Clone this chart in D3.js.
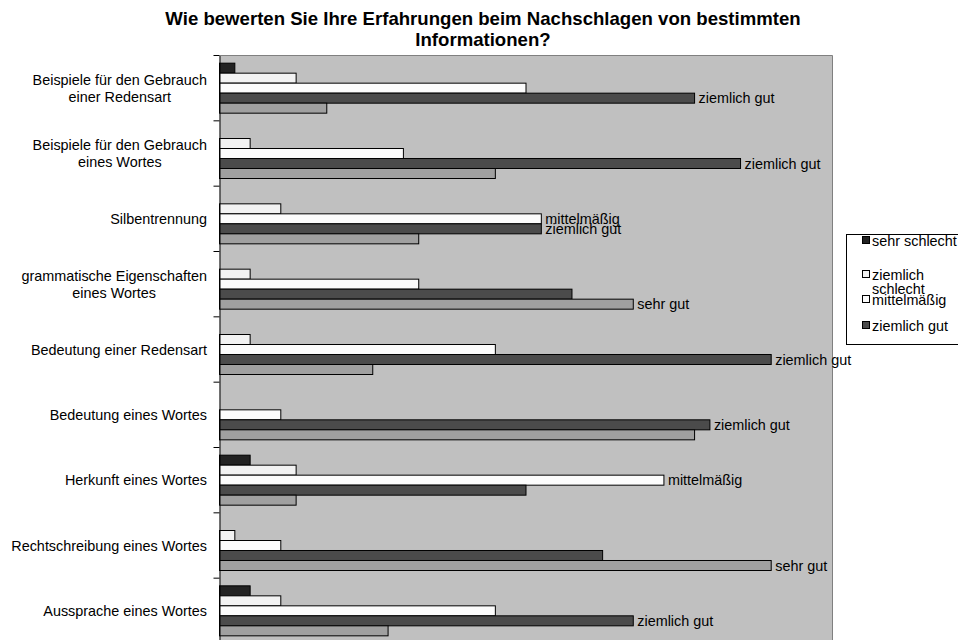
<!DOCTYPE html>
<html>
<head>
<meta charset="utf-8">
<script src="https://cdn.jsdelivr.net/npm/d3@7"></script>
<style>
  html, body { margin: 0; padding: 0; background: #ffffff; }
  svg { display: block; font-family: "Liberation Sans", Arial, sans-serif; }
</style>
</head>
<body>
<svg id="chart" width="958" height="640"></svg>
<script>
// Survey answers per lookup type (number of respondents per rating)
const titleLines = [
  "Wie bewerten Sie Ihre Erfahrungen beim Nachschlagen von bestimmten",
  "Informationen?"
];
const categories = [
  ["Beispiele für den Gebrauch", "einer Redensart"],
  ["Beispiele für den Gebrauch", "eines Wortes"],
  ["Silbentrennung"],
  ["grammatische Eigenschaften", "eines Wortes"],
  ["Bedeutung einer Redensart"],
  ["Bedeutung eines Wortes"],
  ["Herkunft eines Wortes"],
  ["Rechtschreibung eines Wortes"],
  ["Aussprache eines Wortes"]
];
const seriesNames = ["sehr schlecht", "ziemlich schlecht", "mittelmäßig", "ziemlich gut", "sehr gut"];
const sehrSchlecht     = [1, 0, 0, 0, 0, 0, 2, 0, 2];
const ziemlichSchlecht = [5, 2, 4, 2, 2, 0, 5, 1, 4];
const mittelmaessig    = [20, 12, 21, 13, 18, 4, 29, 4, 18];
const ziemlichGut      = [31, 34, 21, 23, 36, 32, 20, 25, 27];
const sehrGut          = [7, 18, 13, 27, 10, 31, 5, 36, 11];
const legendEntries = [["sehr schlecht"], ["ziemlich", "schlecht"], ["mittelmäßig"], ["ziemlich gut"]];

const seriesValues = [sehrSchlecht, ziemlichSchlecht, mittelmaessig, ziemlichGut, sehrGut];
const fills = ["#222222", "#f2f2f2", "#fcfcfc", "#4b4b4b", "#a0a0a0"];

const svg = d3.select("#chart");
const plot = { left: 219.5, right: 832.5, top: 55.5, bottom: 643.5 };
const labelFont = "14.4px";

const catKeys = categories.map(c => c.join(" "));
const x = d3.scaleLinear().domain([0, 40]).range([plot.left, plot.right]);
const y0 = d3.scaleBand().domain(catKeys).range([plot.top, plot.bottom]).padding(0);
const y1 = d3.scaleBand().domain(seriesNames).range([0, y0.bandwidth()])
  .paddingInner(0).paddingOuter(0.767);
const color = d3.scaleOrdinal().domain(seriesNames).range(fills);

// Title
svg.append("g").selectAll("text").data(titleLines).join("text")
  .attr("x", 483).attr("y", (d, i) => 24.5 + i * 21.5)
  .attr("text-anchor", "middle")
  .attr("font-weight", "bold").attr("font-size", "18.6px")
  .attr("fill", "#000").text(d => d);

// Plot background
svg.append("rect")
  .attr("x", plot.left).attr("y", plot.top)
  .attr("width", plot.right - plot.left).attr("height", plot.bottom - plot.top)
  .attr("fill", "#c0c0c0");
// Gray frame on top and right
svg.append("path")
  .attr("d", `M${plot.left},${plot.top}H${plot.right}V${plot.bottom}`)
  .attr("fill", "none").attr("stroke", "#808080").attr("stroke-width", 1);

// Bars
const rows = [];
catKeys.forEach((c, ci) => {
  const maxV = d3.max(seriesValues, s => s[ci]);
  seriesNames.forEach((s, si) => {
    rows.push({ cat: c, series: s, value: seriesValues[si][ci], top: seriesValues[si][ci] === maxV });
  });
});

const groups = svg.append("g").selectAll("g").data(catKeys).join("g")
  .attr("transform", d => `translate(0,${y0(d)})`);

groups.selectAll("rect")
  .data(c => rows.filter(r => r.cat === c && r.value > 0))
  .join("rect")
  .attr("x", x(0))
  .attr("y", d => y1(d.series))
  .attr("width", d => x(d.value) - x(0))
  .attr("height", y1.bandwidth())
  .attr("fill", d => color(d.series))
  .attr("stroke", "#000").attr("stroke-width", 1);

// Series name on the most frequent answer
groups.selectAll("text.lbl")
  .data(c => rows.filter(r => r.cat === c && r.top))
  .join("text").attr("class", "lbl")
  .attr("x", d => x(d.value) + 4)
  .attr("y", d => y1(d.series) + y1.bandwidth() / 2)
  .attr("dy", "0.35em")
  .attr("font-size", labelFont).attr("fill", "#000")
  .text(d => d.series);

// Category axis
const yAxis = d3.axisLeft(y0).tickSize(0).tickFormat("");
const axisG = svg.append("g").attr("transform", `translate(${plot.left},0)`).call(yAxis);
axisG.select(".domain").attr("stroke", "#000");
// Tick marks on the band boundaries
axisG.selectAll("line.bound")
  .data(catKeys.map(c => y0(c)).concat([plot.bottom]))
  .join("line").attr("class", "bound")
  .attr("x1", -6).attr("x2", 0)
  .attr("y1", d => d).attr("y2", d => d)
  .attr("stroke", "#000");

// Category labels: lines centred within the block, block right-aligned
const labelRight = 207;
categories.forEach((lines, ci) => {
  const g = svg.append("g");
  const cy = y0(catKeys[ci]) + y0.bandwidth() / 2;
  const lh = 17;
  const texts = g.selectAll("text").data(lines).join("text")
    .attr("y", (d, i) => cy + (i - (lines.length - 1) / 2) * lh)
    .attr("dy", "0.35em")
    .attr("font-size", labelFont).attr("fill", "#000")
    .attr("text-anchor", "middle")
    .text(d => d);
  let maxW = 0;
  texts.each(function () { maxW = Math.max(maxW, this.getComputedTextLength()); });
  texts.attr("x", labelRight - maxW / 2);
});

// Legend
const legend = svg.append("g");
legend.append("rect")
  .attr("x", 846.5).attr("y", 234.5).attr("width", 140).attr("height", 110)
  .attr("fill", "#fff").attr("stroke", "#000");
const legendY = [241, 275, 300, 326];
legendEntries.forEach((lines, i) => {
  const s = seriesNames[i];
  legend.append("rect")
    .attr("x", 862.5).attr("y", legendY[i] - 4.5).attr("width", 7).attr("height", 7)
    .attr("fill", color(s)).attr("stroke", "#000");
  legend.append("g").selectAll("text").data(lines).join("text")
    .attr("x", 872).attr("y", (d, j) => legendY[i] + j * 14)
    .attr("dy", "0.35em")
    .attr("font-size", labelFont).attr("fill", "#000")
    .text(d => d);
});
</script>
</body>
</html>
